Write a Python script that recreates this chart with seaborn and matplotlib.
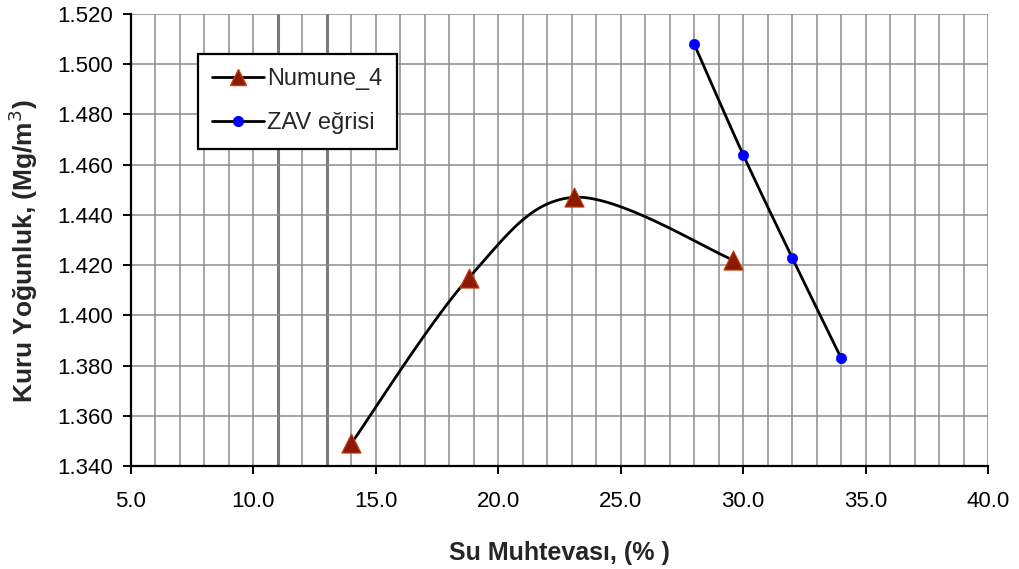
import numpy as np
import pandas as pd
import matplotlib
matplotlib.use("Agg")
import matplotlib.pyplot as plt
from matplotlib.lines import Line2D
import seaborn as sns

# Compaction test results
water_content = [14.0, 18.8, 23.1, 29.6]
dry_density = [1.349, 1.415, 1.447, 1.422]

# Zero-air-voids curve
zav_water = [28.0, 30.0, 32.0, 34.0]
zav_density = [1.508, 1.464, 1.423, 1.383]

x_ticks = [5.0, 10.0, 15.0, 20.0, 25.0, 30.0, 35.0, 40.0]
y_ticks = [1.340, 1.360, 1.380, 1.400, 1.420, 1.440, 1.460, 1.480, 1.500, 1.520]

sns.set_style("white")
plt.rcParams["font.family"] = ["Liberation Sans", "DejaVu Sans"]

fig = plt.figure(figsize=(10.19, 5.69), dpi=100)
ax = fig.add_axes([131 / 1019, 1 - 466 / 569, 857 / 1019, 452 / 569])

XLIM = (5.0, 40.0)
YLIM = (1.340, 1.520)
ax.set_xlim(*XLIM)
ax.set_ylim(*YLIM)


def smooth(xs, ys, n=40):
    """Catmull-Rom style smoothed line (as spreadsheet 'smoothed line' charts draw)."""
    sx = 857 / (XLIM[1] - XLIM[0])
    sy = 452 / (YLIM[1] - YLIM[0])
    P = np.column_stack([(np.asarray(xs) - XLIM[0]) * sx,
                         (np.asarray(ys) - YLIM[0]) * sy])
    out = []
    m = len(P)
    for i in range(m - 1):
        p0 = P[i - 1] if i > 0 else P[i]
        p1, p2 = P[i], P[i + 1]
        p3 = P[i + 2] if i + 2 < m else P[i + 1]
        c1 = p1 + (p2 - p0) / 6.0
        c2 = p2 - (p3 - p1) / 6.0
        t = np.linspace(0, 1, n)[:, None]
        seg = ((1 - t) ** 3) * p1 + 3 * ((1 - t) ** 2) * t * c1 \
            + 3 * (1 - t) * t ** 2 * c2 + t ** 3 * p2
        out.append(seg if i == 0 else seg[1:])
    C = np.vstack(out)
    return C[:, 0] / sx + XLIM[0], C[:, 1] / sy + YLIM[0]


# grid
grid_c = "#8c8c8c"
for xv in np.arange(6.0, 40.5, 1.0):
    lw = 1.1
    col = grid_c
    if xv in (11.0, 13.0):
        lw, col = 2.2, "#7a7a7a"
    ax.axvline(xv, color=col, lw=lw, zorder=0)
for yv in y_ticks[1:]:
    ax.axhline(yv, color=grid_c, lw=1.1, zorder=0)

# curves
cx, cy = smooth(water_content, dry_density)
ax.plot(cx, cy, color="black", lw=2.0, zorder=2)
zx, zy = smooth(zav_water, zav_density)
ax.plot(zx, zy, color="black", lw=2.0, zorder=2)

df1 = pd.DataFrame({"w": water_content, "rho": dry_density})
df2 = pd.DataFrame({"w": zav_water, "rho": zav_density})
sns.scatterplot(data=df1, x="w", y="rho", ax=ax, marker="^", s=190,
                color="#8b1a00", edgecolor="#c04010", linewidth=0.8, zorder=3)
sns.scatterplot(data=df2, x="w", y="rho", ax=ax, marker="o", s=55,
                color="#0000ff", edgecolor="#0000ff", linewidth=0.5, zorder=3)

# spines and ticks
for s in ("top", "right"):
    ax.spines[s].set_visible(False)
for s in ("left", "bottom"):
    ax.spines[s].set_color("black")
    ax.spines[s].set_linewidth(1.6)
    ax.spines[s].set_zorder(4)

ax.set_xticks(x_ticks)
ax.set_xticklabels([f"{v:.1f}" for v in x_ticks])
ax.set_yticks(y_ticks)
ax.set_yticklabels([f"{v:.3f}" for v in y_ticks])
ax.tick_params(axis="both", direction="out", length=6, width=1.4,
               color="black", labelsize=16, labelcolor="black")
ax.tick_params(axis="x", pad=12, bottom=True)
ax.tick_params(axis="y", pad=7, left=True)

ax.set_xlabel("Su Muhtevası, (% )", fontsize=18, fontweight="bold")
ax.set_ylabel("Kuru Yoğunluk, (Mg/m$^3$)", fontsize=19, fontweight="bold")
ax.xaxis.set_label_coords(0.5, -0.165)
ax.yaxis.set_label_coords(-0.106, 0.475)

handles = [
    Line2D([], [], color="black", lw=2.0, marker="^", markersize=12,
           markerfacecolor="#8b1a00", markeredgecolor="#c04010"),
    Line2D([], [], color="black", lw=2.0, marker="o", markersize=7,
           markerfacecolor="#0000ff", markeredgecolor="#0000ff"),
]
leg = ax.legend(handles, ["Numune_4", "ZAV eğrisi"], loc="upper left",
                bbox_to_anchor=(0.078, 0.912), fontsize=17, frameon=True,
                fancybox=False, edgecolor="black", framealpha=1,
                handlelength=2.2, handletextpad=0.15, borderpad=0.6,
                labelspacing=0.95, borderaxespad=0)
leg.get_frame().set_linewidth(1.6)
leg.set_zorder(5)

fig.savefig("out.png", dpi=100)
